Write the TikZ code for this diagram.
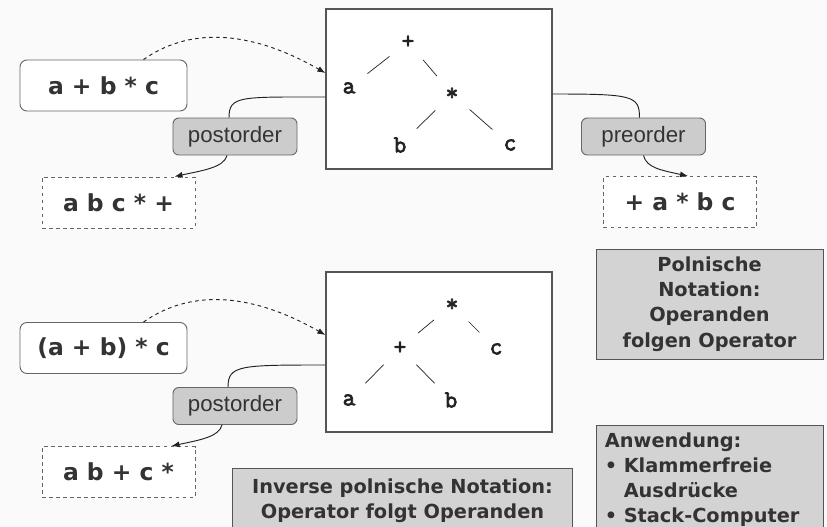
\documentclass[tikz,border=0pt]{standalone}
\usepackage{fontspec}
\setmainfont{DejaVu Sans}
\newfontfamily\labelfont{Liberation Sans}
\newfontfamily\treefont{Latin Modern Mono}[AutoFakeBold=3]
\usetikzlibrary{arrows.meta, positioning, calc}
\definecolor{bgpaper}{HTML}{FAFAFA}
\definecolor{txtdark}{HTML}{333333}
\definecolor{linedark}{HTML}{222222}
\definecolor{boxgray}{HTML}{666666}
\definecolor{framegray}{HTML}{555555}
\definecolor{lblgray}{HTML}{CCCCCC}
\definecolor{notegray}{HTML}{D3D3D3}

\tikzset{
  exprbox/.style={draw=boxgray, fill=white, rounded corners=6pt, line width=0.8pt,
    minimum width=5.01cm, minimum height=1.53cm, text=txtdark,
    font=\fontsize{20}{24}\selectfont\bfseries},
  resultbox/.style={exprbox, rounded corners=0pt, dashed, minimum width=4.59cm},
  orderbox/.style={draw=boxgray, fill=lblgray, rounded corners=5pt, line width=0.8pt,
    minimum width=3.72cm, minimum height=1.11cm, text=txtdark,
    font=\labelfont\fontsize{19}{21}\selectfont},
  treebox/.style={draw=framegray, fill=white, line width=1pt,
    minimum width=6.78cm, minimum height=4.8cm},
  leaf/.style={font=\treefont\bfseries\fontsize{21}{23}\selectfont, text=linedark, inner sep=0pt},
  branch/.style={draw=linedark, line width=0.6pt, shorten <=20pt, shorten >=20pt},
  notebox/.style={draw=framegray, fill=notegray, line width=0.8pt, text=txtdark,
    font=\bfseries\fontsize{16.5}{21.5}\selectfont},
  walk/.style={-{Latex[length=2.4mm, width=1.8mm]}, draw=linedark, line width=0.8pt},
  link/.style={draw=linedark, line width=0.8pt},
  parse/.style={walk, dashed}
}

\begin{document}
\begin{tikzpicture}[x=0.03cm, y=-0.03cm]

% Background
\useasboundingbox (0,0) rectangle (827,527);
\clip (0,0) rectangle (827,527);
\fill[bgpaper] (0,0) rectangle (827,527);

% Upper tree: a + b * c
\node[treebox] (tree1) at (439,89) {};
\node[leaf] (t1plus) at (408,42) {+};
\node[leaf] (t1a) at (349,88) {a};
\node[leaf] (t1star) at (452,94) {*};
\node[leaf] (t1b) at (400,145) {b};
\node[leaf] (t1c) at (510,145) {c};
\draw[branch] (t1plus.center) -- (t1a.center);
\draw[branch] (t1plus.center) -- (t1star.center);
\draw[branch] (t1star.center) -- (t1b.center);
\draw[branch] (t1star.center) -- (t1c.center);

% Lower tree: (a + b) * c
\node[treebox] (tree2) at (439,352) {};
\node[leaf] (t2star) at (452,305) {*};
\node[leaf] (t2plus) at (400,348) {+};
\node[leaf] (t2c) at (496,349) {c};
\node[leaf] (t2a) at (349,400) {a};
\node[leaf] (t2b) at (451,400) {b};
\draw[branch] (t2star.center) -- (t2plus.center);
\draw[branch] (t2star.center) -- (t2c.center);
\draw[branch] (t2plus.center) -- (t2a.center);
\draw[branch] (t2plus.center) -- (t2b.center);

% Expressions
\node[exprbox] (expr1) at (103.5,85.5) {a + b * c};
\node[exprbox] (expr2) at (103.5,348) {(a + b) * c};

% Traversals
\node[orderbox] (post1) at (235,136.5) {postorder};
\node[orderbox] (pre1) at (643.5,136.5) {preorder};
\node[orderbox] (post2) at (235,406) {postorder};

% Results
\node[resultbox] (res1) at (118.5,202.5) {a b c * +};
\node[resultbox] (res2) at (680,202) {+ a * b c};
\node[resultbox] (res3) at (118.5,472) {a b + c *};

% Notes
\node[notebox, align=center, minimum width=6.81cm, minimum height=3.3cm] (polish) at (709.5,304)
  {Polnische\\Notation:\\Operanden\\folgen Operator};
\node[notebox, align=left, anchor=north west, minimum width=6.81cm, text width=6.3cm,
  inner ysep=6pt] (usage) at (596,425)
  {Anwendung:\\\textbullet\ Klammerfreie\\\phantom{\textbullet\ }Ausdrücke\\\textbullet\ Stack-Computer};
\node[notebox, align=center, anchor=north west, minimum width=10.2cm, inner ysep=9pt] (reverse) at (232,468)
  {Inverse polnische Notation:\\Operator folgt Operanden};

% Connectors, upper half
\draw[parse] ($(expr1.north)+(40,0)$) .. controls +(50,-35) and +(-70,-40) .. ($(tree1.west)+(0,-16)$);
\draw[link] ($(tree1.west)+(0,8)$) .. controls +(-85,0) and +(0,-22) .. ($(post1.north)+(-6,0)$);
\draw[walk] ($(post1.south)+(-8,0)$) .. controls +(-3,12) and +(28,-6) .. ($(res1.north)+(56,0)$);
\draw[link] ($(tree1.east)+(0,5)$) .. controls +(80,0) and +(0,-22) .. ($(pre1.north)+(-4,0)$);
\draw[walk] (pre1.south) .. controls +(3,12) and +(-28,-6) .. ($(res2.north)+(8,0)$);

% Connectors, lower half
\draw[parse] ($(expr2.north)+(40,0)$) .. controls +(50,-35) and +(-70,-40) .. ($(tree2.west)+(0,-17)$);
\draw[link] ($(tree2.west)+(0,13)$) .. controls +(-85,0) and +(0,-22) .. ($(post2.north)+(-7,0)$);
\draw[walk] ($(post2.south)+(-13,0)$) .. controls +(-3,12) and +(28,-6) .. ($(res3.north)+(53,0)$);

\end{tikzpicture}
\end{document}
